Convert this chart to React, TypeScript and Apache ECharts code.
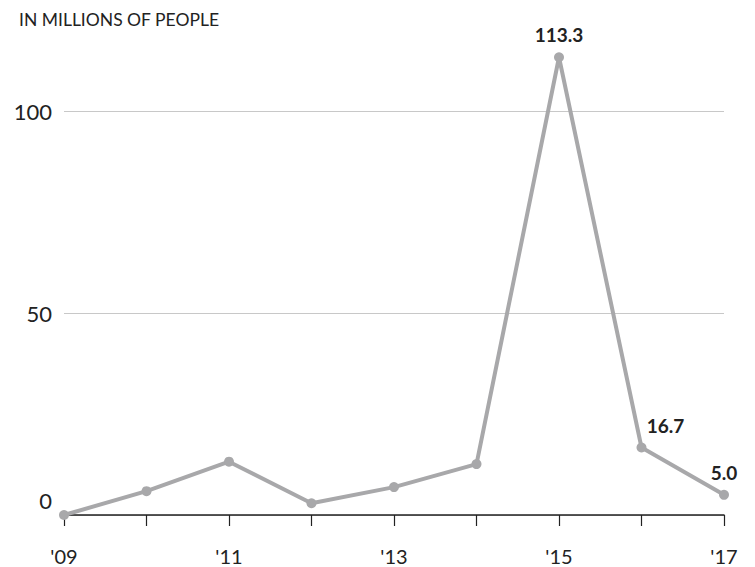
import React, { useEffect, useRef } from "react";
import * as echarts from "echarts";

const years = ["'09", "'10", "'11", "'12", "'13", "'14", "'15", "'16", "'17"];
const people = [0, 5.9, 13.2, 2.9, 6.9, 12.6, 113.3, 16.7, 5.0];
const labelledIdx = [6, 7, 8];
const yTicks = [0, 50, 100];
const title = "IN MILLIONS OF PEOPLE";

export default function App() {
  const ref = useRef<HTMLDivElement>(null);
  useEffect(() => {
    if (!ref.current) return;
    const chart = echarts.init(ref.current, undefined, { renderer: "svg" });
    const font = "Lato";
    const labelPos: Record<number, any> = {
      6: { position: "top", distance: 8 },
      7: { position: "top", offset: [24, 0], distance: 8 },
      8: { position: "top", distance: 8 },
    };
    const data = people.map((v, i) =>
      labelledIdx.includes(i)
        ? {
            value: v,
            label: {
              show: true,
              formatter: v.toFixed(1),
              fontFamily: font,
              fontWeight: "bold",
              fontSize: 19,
              color: "#222",
              ...labelPos[i],
            },
          }
        : { value: v }
    );
    chart.setOption({
      animation: false,
      backgroundColor: "#fff",
      title: {
        text: title,
        left: 14,
        top: 5,
        textStyle: { fontFamily: font, fontSize: 17.5, fontWeight: "normal", color: "#222" },
      },
      grid: { left: 64, right: 31, top: 111, bottom: 52 },
      xAxis: {
        type: "category",
        data: years,
        boundaryGap: false,
        axisLine: { show: true, lineStyle: { color: "#222", width: 1.5 } },
        axisTick: { show: true, interval: 0, length: 11, lineStyle: { color: "#222", width: 1.2 } },
        axisLabel: {
          interval: 1,
          margin: 31,
          fontFamily: font,
          fontSize: 20,
          color: "#222",
        },
        splitLine: { show: false },
      },
      yAxis: {
        type: "value",
        min: yTicks[0],
        max: yTicks[yTicks.length - 1],
        interval: 50,
        axisLine: { show: false },
        axisTick: { show: false },
        splitLine: { show: true, lineStyle: { color: "#c8c8c8", width: 1.2 } },
        axisLabel: {
          margin: 12,
          fontFamily: font,
          fontSize: 22,
          color: "#222",
          formatter: (v: number) => (v === 0 ? "{z|0}" : "{n|" + v + "}"),
          rich: {
            z: { fontFamily: font, fontSize: 22, color: "#222", padding: [0, 0, 30, 0] },
            n: { fontFamily: font, fontSize: 22, color: "#222" },
          },
        },
      },
      series: [
        {
          type: "line",
          data,
          clip: false,
          symbol: "circle",
          symbolSize: 10,
          lineStyle: { color: "#a8a8aa", width: 4 },
          itemStyle: { color: "#a8a8aa" },
          z: 5,
        },
      ],
    });
    return () => chart.dispose();
  }, []);
  return (
    <div
      ref={ref}
      style={{ position: "fixed", left: 0, top: 0, width: 755, height: 567 }}
    />
  );
}
